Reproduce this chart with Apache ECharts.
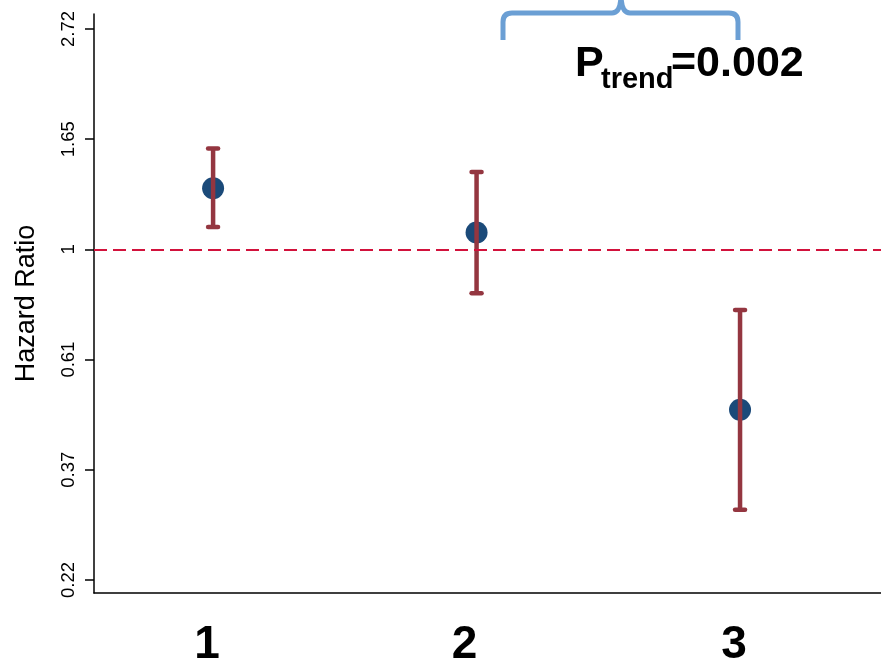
<!DOCTYPE html>
<html>
<head>
<meta charset="utf-8">
<script src="https://cdn.jsdelivr.net/npm/echarts@6/dist/echarts.min.js"></script>
<style>
  html, body { margin: 0; padding: 0; background: #ffffff; }
  #chart { width: 881px; height: 665px; }
</style>
</head>
<body>
<div id="chart"></div>
<script>
// Hazard ratios by group with 95% confidence limits
const groups = [1, 2, 3];
const groupLabels = ['1', '2', '3'];
const hazardRatio = [1.32, 1.08, 0.483];
const ciLower = [1.107, 0.82, 0.307];
const ciUpper = [1.58, 1.42, 0.76];

// Log-scale ticks: ln(HR) in half-unit steps and their printed labels
const tickLogValues = [-1.5, -1, -0.5, 0, 0.5, 1];
const tickLabels = ['0.22', '0.37', '0.61', '1', '1.65', '2.72'];

const referenceHR = 1;
const trendP = '0.002';

const FONT = '"Liberation Sans", Arial, Helvetica, sans-serif';

const chart = echarts.init(document.getElementById('chart'), null, { renderer: 'canvas' });

const pointData = groups.map((g, i) => [g, Math.log(hazardRatio[i])]);
const ciData = groups.map((g, i) => [g, Math.log(ciLower[i]), Math.log(ciUpper[i])]);

// per-label horizontal nudge of the group numbers
const labelShift = { '1': 12, '2': 24, '3': 12 };

// curly brace over the trend annotation, built from straight and curved strokes
const braceStyle = { stroke: '#6b9fd4', lineWidth: 5, fill: null };
const brace = {
  type: 'group',
  silent: true,
  children: [
    { type: 'line', shape: { x1: 503, y1: 40, x2: 503, y2: 22 }, style: braceStyle },
    { type: 'bezierCurve', shape: { x1: 503, y1: 22, cpx1: 503, cpy1: 13, x2: 512, y2: 13 }, style: braceStyle },
    { type: 'line', shape: { x1: 512, y1: 13, x2: 612, y2: 13 }, style: braceStyle },
    { type: 'bezierCurve', shape: { x1: 612, y1: 13, cpx1: 621, cpy1: 13, x2: 621, y2: -6 }, style: braceStyle },
    { type: 'bezierCurve', shape: { x1: 621, y1: -6, cpx1: 621, cpy1: 13, x2: 630, y2: 13 }, style: braceStyle },
    { type: 'line', shape: { x1: 630, y1: 13, x2: 729, y2: 13 }, style: braceStyle },
    { type: 'bezierCurve', shape: { x1: 729, y1: 13, cpx1: 738, cpy1: 13, x2: 738, y2: 22 }, style: braceStyle },
    { type: 'line', shape: { x1: 738, y1: 22, x2: 738, y2: 40 }, style: braceStyle }
  ]
};

chart.setOption({
  animation: false,
  backgroundColor: '#ffffff',
  grid: { left: 94, right: 0, top: 14, bottom: 72, containLabel: false, outerBoundsMode: 'none' },
  xAxis: {
    type: 'value',
    min: 0.548,
    max: 3.535,
    splitLine: { show: false },
    axisLine: { show: true, onZero: false, lineStyle: { color: '#000', width: 1.5 } },
    axisTick: { show: false },
    axisLabel: {
      customValues: groups,
      margin: 29,
      formatter: (v) => {
        const s = groupLabels[groups.indexOf(v)];
        return '{g' + s + '|' + s + '}';
      },
      rich: {
        g1: { fontFamily: FONT, fontWeight: 'bold', fontSize: 46, color: '#000', padding: [0, labelShift['1'], 0, 0] },
        g2: { fontFamily: FONT, fontWeight: 'bold', fontSize: 46, color: '#000', padding: [0, labelShift['2'], 0, 0] },
        g3: { fontFamily: FONT, fontWeight: 'bold', fontSize: 46, color: '#000', padding: [0, labelShift['3'], 0, 0] }
      }
    }
  },
  yAxis: {
    type: 'value',
    min: -1.559,
    max: 1.068,
    name: 'Hazard Ratio',
    nameLocation: 'middle',
    nameRotate: 90,
    nameGap: 54,
    nameTextStyle: { fontFamily: FONT, fontSize: 27, color: '#000' },
    splitLine: { show: false },
    axisLine: { show: true, onZero: false, lineStyle: { color: '#000', width: 1.5 } },
    axisTick: { show: true, customValues: tickLogValues, length: 9, lineStyle: { color: '#000', width: 1.5 } },
    axisLabel: {
      customValues: tickLogValues,
      rotate: 90,
      margin: 16,
      fontFamily: FONT,
      fontSize: 18.5,
      color: '#000',
      formatter: (v) => {
        const i = tickLogValues.findIndex((t) => Math.abs(t - v) < 1e-9);
        return i >= 0 ? tickLabels[i] : '';
      }
    }
  },
  series: [
    {
      type: 'scatter',
      data: pointData,
      symbol: 'circle',
      symbolSize: 22,
      itemStyle: { color: '#1b4a79', opacity: 1 },
      z: 2,
      markLine: {
        silent: true,
        symbol: ['none', 'none'],
        label: { show: false },
        lineStyle: { color: '#d2123c', width: 2, type: [13, 6], opacity: 1 },
        data: [{ yAxis: Math.log(referenceHR) }]
      }
    },
    {
      type: 'custom',
      data: ciData,
      encode: { x: 0, y: [1, 2] },
      z: 3,
      renderItem: (params, api) => {
        const x = api.value(0);
        const lo = api.coord([x, api.value(1)]);
        const hi = api.coord([x, api.value(2)]);
        const half = 5;
        const stroke = '#943640';
        return {
          type: 'group',
          children: [
            { type: 'line', shape: { x1: lo[0], y1: lo[1], x2: hi[0], y2: hi[1] },
              style: { stroke, lineWidth: 4.5, lineCap: 'butt' } },
            { type: 'line', shape: { x1: hi[0] - half, y1: hi[1], x2: hi[0] + half, y2: hi[1] },
              style: { stroke, lineWidth: 4.5, lineCap: 'round' } },
            { type: 'line', shape: { x1: lo[0] - half, y1: lo[1], x2: lo[0] + half, y2: lo[1] },
              style: { stroke, lineWidth: 4.5, lineCap: 'round' } }
          ]
        };
      }
    }
  ],
  graphic: [
    brace,
    {
      type: 'text',
      silent: true,
      left: 575,
      top: 43,
      style: { text: 'P', font: 'bold 43px ' + FONT, fill: '#000' }
    },
    {
      type: 'text',
      silent: true,
      left: 601,
      top: 65,
      style: { text: 'trend', font: 'bold 29px ' + FONT, fill: '#000' }
    },
    {
      type: 'text',
      silent: true,
      left: 671,
      top: 43,
      style: { text: '=' + trendP, font: 'bold 43px ' + FONT, fill: '#000' }
    }
  ]
});
</script>
</body>
</html>
